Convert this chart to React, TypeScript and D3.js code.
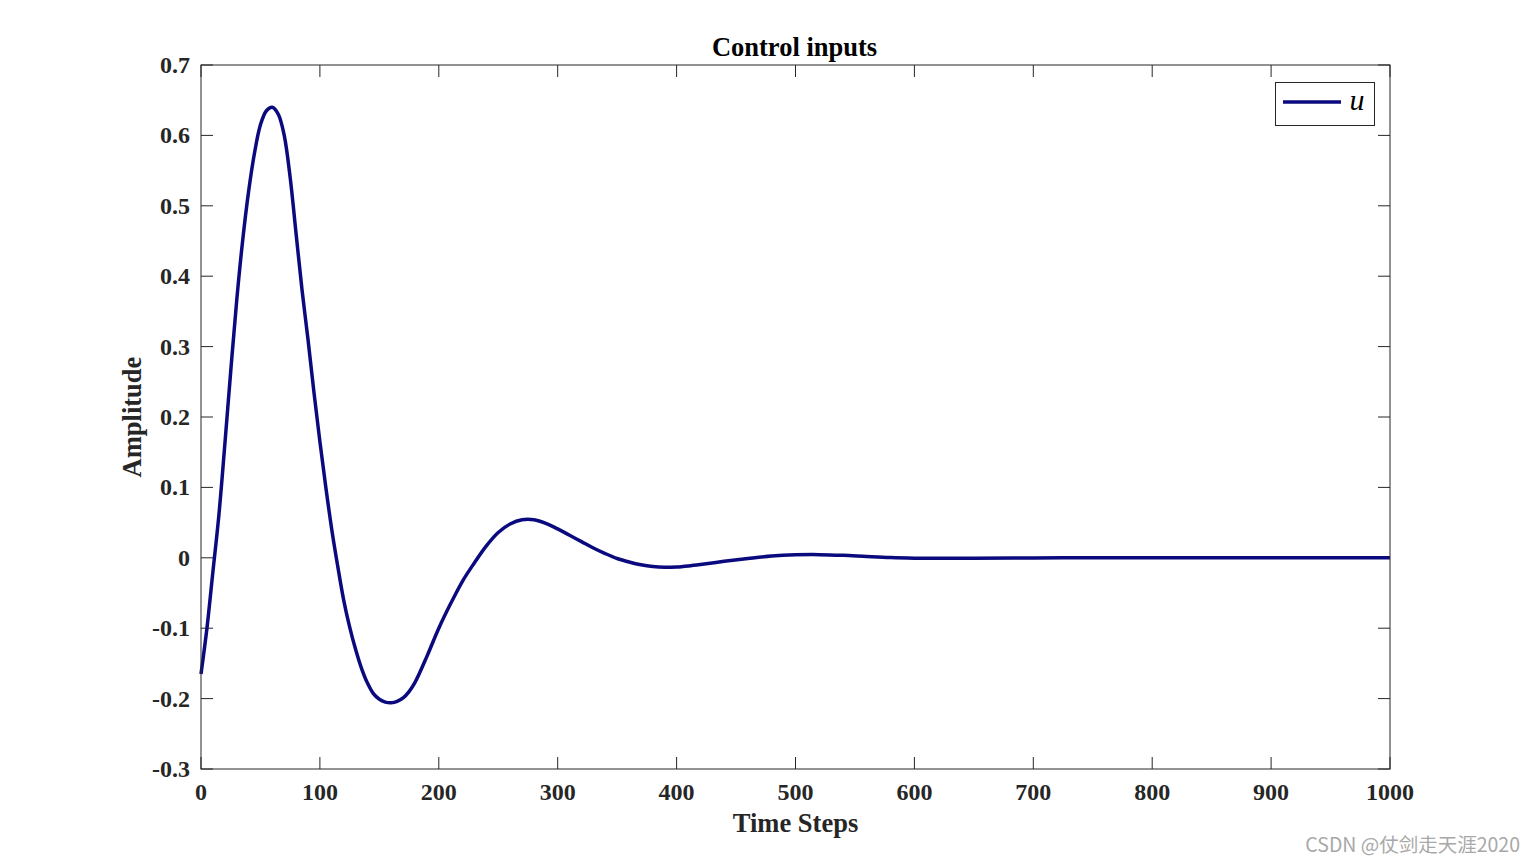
import React from "react";
import * as d3 from "d3";

const steps = [0, 5, 10, 15, 20, 25, 30, 35, 40, 45, 50, 55, 60, 65, 70, 75, 80, 85, 90, 95, 100, 105, 110, 115, 120, 125, 130, 135, 140, 145, 150, 155, 160, 165, 170, 175, 180, 190, 200, 210, 220, 230, 240, 250, 260, 270, 280, 290, 300, 310, 320, 330, 340, 350, 360, 370, 380, 390, 400, 410, 420, 440, 460, 480, 500, 520, 540, 560, 580, 600, 620, 650, 700, 750, 800, 900, 1000];
const uValues = [-0.165, -0.1, -0.02, 0.06, 0.16, 0.265, 0.365, 0.45, 0.52, 0.575, 0.615, 0.635, 0.64, 0.63, 0.6, 0.54, 0.46, 0.38, 0.31, 0.235, 0.165, 0.1, 0.04, -0.012, -0.06, -0.098, -0.13, -0.157, -0.178, -0.193, -0.201, -0.205, -0.206, -0.204, -0.199, -0.19, -0.177, -0.14, -0.1, -0.065, -0.033, -0.007, 0.017, 0.036, 0.048, 0.054, 0.054, 0.049, 0.041, 0.032, 0.023, 0.014, 0.006, -0.001, -0.006, -0.01, -0.0125, -0.0135, -0.013, -0.0115, -0.0095, -0.005, -0.001, 0.0025, 0.0042, 0.0045, 0.0035, 0.0018, 0.0003, -0.0005, -0.0008, -0.0006, -0.0002, 0, 0, 0, 0];
const xTicks = [0, 100, 200, 300, 400, 500, 600, 700, 800, 900, 1000];
const yTicks = [-0.3, -0.2, -0.1, 0, 0.1, 0.2, 0.3, 0.4, 0.5, 0.6, 0.7];

const W = 1536, H = 864;
const L = 201, R = 1390, T = 65, B = 769;
const axisColor = "#262626";
const lineColor = "#0a0a7e";
const font = "'Liberation Serif', 'Times New Roman', serif";

export default function App() {
  const x = d3.scaleLinear().domain([0, 1000]).range([L, R]);
  const y = d3.scaleLinear().domain([-0.3, 0.7]).range([B, T]);
  const data = steps.map((s, i) => [s, uValues[i]] as [number, number]);
  const line = d3.line<[number, number]>().x(d => x(d[0])).y(d => y(d[1])).curve(d3.curveCatmullRom.alpha(0.5));
  const tl = 12;
  const fmt = (t: number) => (Math.abs(t) < 1e-9 ? "0" : t.toFixed(1));
  return (
    <svg width={W} height={H} style={{ position: "absolute", left: 0, top: 0, background: "#fff" }}>
      <rect x={0} y={0} width={W} height={H} fill="#fff" />
      <text x={(L + R) / 2 - 1} y={56} textAnchor="middle" fontFamily={font} fontWeight="bold" fontSize={26.5} fill="#000">Control inputs</text>
      {xTicks.map(t => (
        <g key={"x" + t}>
          <line x1={x(t)} x2={x(t)} y1={B} y2={B - tl} stroke={axisColor} strokeWidth={1} />
          <line x1={x(t)} x2={x(t)} y1={T} y2={T + tl} stroke={axisColor} strokeWidth={1} />
          <text x={x(t)} y={800} textAnchor="middle" fontFamily={font} fontWeight="bold" fontSize={24} fill={axisColor}>{t}</text>
        </g>
      ))}
      {yTicks.map(t => (
        <g key={"y" + t}>
          <line x1={L} x2={L + tl} y1={y(t)} y2={y(t)} stroke={axisColor} strokeWidth={1} />
          <line x1={R} x2={R - tl} y1={y(t)} y2={y(t)} stroke={axisColor} strokeWidth={1} />
          <text x={190} y={y(t) + 8} textAnchor="end" fontFamily={font} fontWeight="bold" fontSize={24} fill={axisColor}>{fmt(t)}</text>
        </g>
      ))}
      <path d={line(data) || ""} fill="none" stroke={lineColor} strokeWidth={3.5} strokeLinejoin="round" />
      <rect x={L} y={T} width={R - L} height={B - T} fill="none" stroke={axisColor} strokeWidth={1} />
      <text x={(L + R) / 2} y={832} textAnchor="middle" fontFamily={font} fontWeight="bold" fontSize={26.5} fill={axisColor}>Time Steps</text>
      <text transform={`translate(141, ${(T + B) / 2}) rotate(-90)`} textAnchor="middle" fontFamily={font} fontWeight="bold" fontSize={26.5} fill={axisColor}>Amplitude</text>
      <rect x={1275.5} y={82.5} width={99} height={43} fill="#fff" stroke={axisColor} strokeWidth={1} />
      <line x1={1283} x2={1341} y1={102} y2={102} stroke={lineColor} strokeWidth={3.5} />
      <text x={1357} y={110} textAnchor="middle" fontFamily={font} fontStyle="italic" fontSize={30} fill="#000">u</text>
      <text x={1520} y={852} textAnchor="end" fontFamily="'Noto Sans CJK SC', 'Noto Sans', sans-serif" fontSize={19.5} fill="#a8a8a8">CSDN @仗剑走天涯2020</text>
    </svg>
  );
}
